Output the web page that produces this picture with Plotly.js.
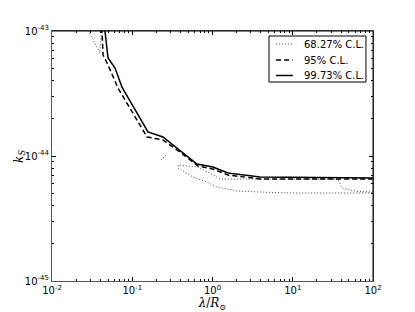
<!DOCTYPE html>
<html>
<head>
<meta charset="utf-8">
<script src="https://cdn.plot.ly/plotly-3.0.1.min.js"></script>
<style>html,body{margin:0;padding:0;background:#fff;}#chart{width:415px;height:312px;}</style>
</head>
<body>
<div id="chart"></div>
<script>
// 99.73% C.L. (solid)
const solidX = [0.0445, 0.0457, 0.0499, 0.0610, 0.0745, 0.0993, 0.157, 0.241, 0.394, 0.641, 1.01, 1.56, 3.91, 100];
const solidY = [1.1e-43, 1.0e-43, 6.08e-44, 5.06e-44, 3.56e-44, 2.56e-44, 1.556e-44, 1.419e-44, 1.096e-44, 8.63e-45, 8.17e-45, 7.31e-45, 6.79e-45, 6.67e-45];
// 95% C.L. (dashed)
const dashX = [0.0418, 0.0433, 0.0499, 0.0664, 0.0885, 0.153, 0.241, 0.394, 0.659, 1.01, 1.56, 3.91, 100];
const dashY = [1.06e-43, 6.43e-44, 5.35e-44, 3.50e-44, 2.56e-44, 1.419e-44, 1.343e-44, 1.076e-44, 8.32e-45, 7.87e-45, 7.05e-45, 6.55e-45, 6.55e-45];
// 68.27% C.L. (dotted) – three separate pieces
const dotAX = [0.0272, 0.0396, 0.0405, 0.0418];
const dotAY = [1.06e-43, 6.67e-44, 8.5e-44, 1.06e-43];
const dotBX = [0.228, 0.249, 0.271];
const dotBY = [9.3e-45, 9.9e-45, 1.04e-44];
const dotCX = [100, 63.2, 51.7, 41.1, 36.6, 3.91, 1.24, 0.931, 0.641, 0.3715, 0.3715, 0.571, 0.853, 1.138, 2.02, 3.91, 9.24, 100];
const dotCY = [5.15e-45, 5.20e-45, 5.35e-45, 5.55e-45, 6.49e-45, 6.55e-45, 6.55e-45, 7.31e-45, 8.17e-45, 8.47e-45, 8.02e-45, 6.79e-45, 6.19e-45, 5.65e-45, 5.25e-45, 5.15e-45, 5.06e-45, 5.06e-45];

const legendNames = ['68.27% C.L.', '95% C.L.', '99.73% C.L.'];
const xTickVals = [0.01, 0.1, 1, 10, 100];
const xTickText = ['10<sup>-2</sup>', '10<sup>-1</sup>', '10<sup>0</sup>', '10<sup>1</sup>', '10<sup>2</sup>'];
const yTickVals = [1e-45, 1e-44, 1e-43];
const yTickText = ['10<sup>-45</sup>', '10<sup>-44</sup>', '10<sup>-43</sup>'];

function minorVals(lo, hi) {
  const v = [];
  for (let e = lo; e < hi; e++) for (let m = 2; m <= 9; m++) v.push(m * Math.pow(10, e));
  return v;
}

const dotStyle = {color: '#444', width: 1, dash: '1px,2px'};
const dashStyle = {color: '#000', width: 1.5, dash: '5px,3px'};
const solidStyle = {color: '#000', width: 1.5};
const traces = [
  {x: dotAX, y: dotAY, mode: 'lines', line: dotStyle, showlegend: false},
  {x: dotBX, y: dotBY, mode: 'lines', line: dotStyle, showlegend: false},
  {x: dotCX, y: dotCY, mode: 'lines', line: dotStyle, showlegend: false},
  {x: dashX, y: dashY, mode: 'lines', line: dashStyle, showlegend: false},
  {x: solidX, y: solidY, mode: 'lines', line: solidStyle, showlegend: false},
  {x: [], y: [], xaxis: 'x2', yaxis: 'y2', mode: 'lines', showlegend: false, hoverinfo: 'skip'}
];

const font = {family: 'DejaVu Sans', size: 10, color: '#000'};
const minorAxis = {ticks: 'inside', ticklen: 2, tickcolor: '#000', showticklabels: false,
  showgrid: false, zeroline: false, showline: false, mirror: 'ticks', type: 'log'};

// manual legend (matplotlib style: compact rows)
const legRows = [0.948, 0.884, 0.822];
const legStyles = [dotStyle, dashStyle, solidStyle];
const shapes = [
  {type: 'line', xref: 'paper', yref: 'paper', x0: 0, x1: 1, y0: 1, y1: 1, line: {color: '#000', width: 1}},
  {type: 'line', xref: 'paper', yref: 'paper', x0: 1, x1: 1, y0: 0, y1: 1, line: {color: '#000', width: 1}},
  {type: 'rect', xref: 'paper', yref: 'paper', x0: 0.676, x1: 0.978, y0: 0.796, y1: 0.98,
   line: {color: '#000', width: 1}, fillcolor: '#fff', layer: 'above'}
];
const annotations = [];
legRows.forEach((yy, i) => {
  shapes.push({type: 'line', xref: 'paper', yref: 'paper', x0: 0.698, x1: 0.75, y0: yy, y1: yy,
    line: Object.assign({}, legStyles[i]), layer: 'above'});
  annotations.push({xref: 'paper', yref: 'paper', x: 0.779, y: yy, xanchor: 'left', yanchor: 'middle',
    text: legendNames[i], showarrow: false, font: {family: 'DejaVu Sans', size: 10, color: '#000'}});
});
annotations.push({xref: 'paper', yref: 'paper', x: -0.1, y: 0.5, xanchor: 'center', yanchor: 'middle',
  textangle: -90, text: '<i>k</i><sub><i>S</i></sub>', showarrow: false,
  font: {family: 'DejaVu Serif', size: 12, color: '#000'}});

const layout = {
  width: 415, height: 312,
  margin: {l: 52, r: 42, t: 31, b: 31},
  paper_bgcolor: '#fff', plot_bgcolor: '#fff',
  font: font,
  showlegend: false,
  xaxis: {
    type: 'log', range: [-2, 2], tickvals: xTickVals, ticktext: xTickText, ticks: 'inside', ticklen: 4, tickcolor: '#000',
    showgrid: false, zeroline: false, showline: true, linecolor: '#555',
    mirror: 'ticks', tickfont: font,
    title: {text: '<i>λ</i>/<i>R</i><sub>⊙</sub>', font: {family: 'DejaVu Serif', size: 12}, standoff: 2}
  },
  yaxis: {
    type: 'log', range: [-45, -43], tickvals: yTickVals, ticktext: yTickText, ticks: 'inside', ticklen: 4, tickcolor: '#000',
    showgrid: false, zeroline: false, showline: true, linecolor: '#555',
    mirror: 'ticks', tickfont: font
  },
  xaxis2: Object.assign({}, minorAxis, {overlaying: 'x', anchor: 'y2', side: 'bottom', range: [-2, 2], tickvals: minorVals(-2, 2)}),
  yaxis2: Object.assign({}, minorAxis, {overlaying: 'y', anchor: 'x2', side: 'left', range: [-45, -43], tickvals: minorVals(-45, -43)}),
  shapes: shapes,
  annotations: annotations
};

Plotly.newPlot('chart', traces, layout, {staticPlot: true, displayModeBar: false});
</script>
</body>
</html>
